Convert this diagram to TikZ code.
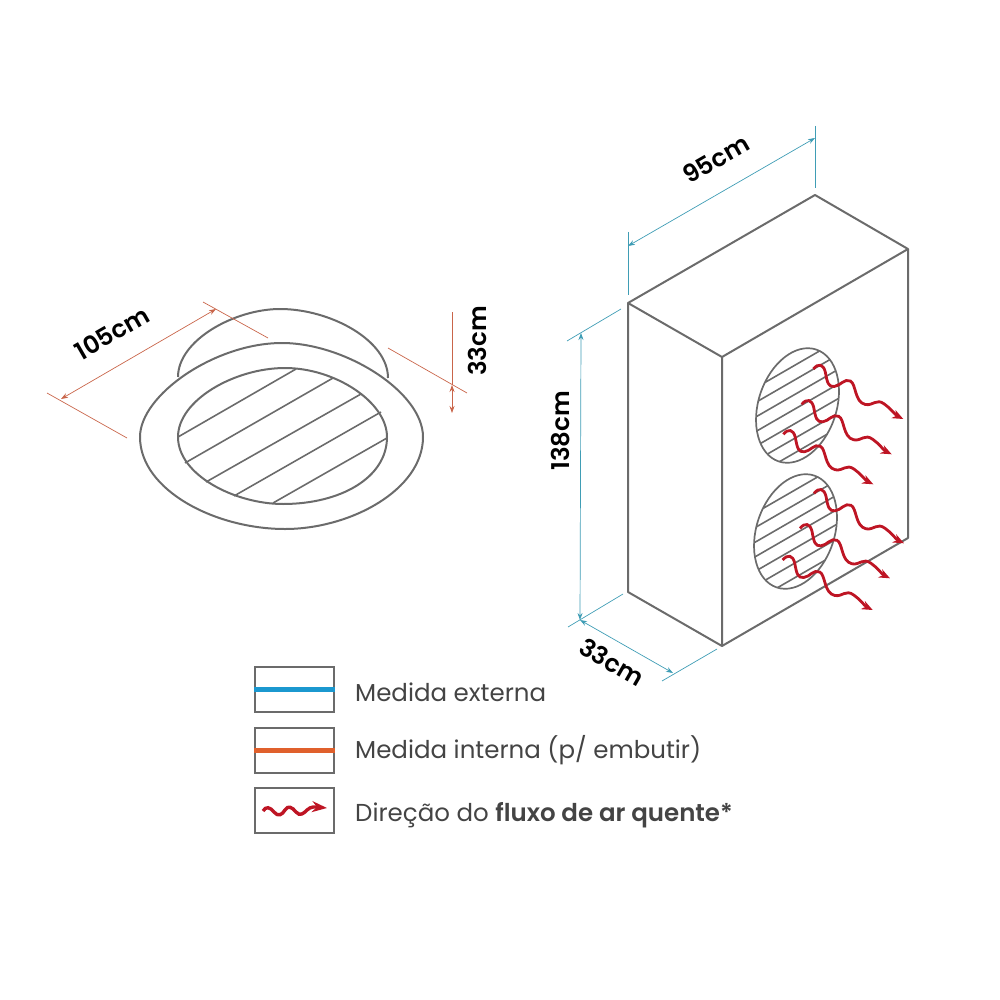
\documentclass[tikz,border=0pt]{standalone}
\usepackage{fontspec}
\usetikzlibrary{arrows.meta}
\setmainfont{Poppins}
\newfontfamily\strongfont{Poppins SemiBold}
\definecolor{linegray}{HTML}{6B6B6B}
\definecolor{textgray}{HTML}{444444}
\definecolor{extblue}{HTML}{3F9DB5}
\definecolor{intorange}{HTML}{C9654A}
\definecolor{barblue}{HTML}{1B98CF}
\definecolor{barorange}{HTML}{E0602C}
\definecolor{hotred}{HTML}{BE1524}
\tikzset{
  outline/.style={draw=linegray, line width=2pt, line join=round},
  slat/.style={draw=linegray, line width=1.6pt},
  dimext/.style={draw=extblue, line width=.7pt},
  dimint/.style={draw=intorange, line width=.7pt},
  dimboth/.style={{Stealth[length=7pt, width=5pt]}-{Stealth[length=7pt, width=5pt]}},
  flow/.style={-{Stealth[length=11pt, width=9pt]}, draw=hotred, line width=2.8pt},
  dimlabel/.style={font=\fontsize{24.5}{28}\strongfont, text=black, inner sep=0pt},
  legendbox/.style={draw=linegray, line width=1.8pt, minimum width=79pt, minimum height=45pt, inner sep=0pt},
  legendtext/.style={font=\fontsize{24.5}{28}\selectfont, text=textgray, anchor=base west, inner sep=0pt}
}
\newcommand{\fangrid}[2]{
\draw [outline, line width=1.7pt, rotate around={-18.6:(#1,#2)}] (#1,#2) ellipse [x radius=39, y radius=59];
\begin{scope}
\clip [rotate around={-18.6:(#1,#2)}] (#1,#2) ellipse [x radius=39, y radius=59];
\foreach \i in {-3,...,3}
  \draw [slat] ({#1-70},{#2+\i*14.6+2+40.4}) -- ({#1+70},{#2+\i*14.6+2-40.4});
\end{scope}
}
\newcommand{\hotflow}[2]{
\draw [flow, shift={(#1,#2)}] (0,0) .. controls (5,-6) and (10,-5) .. (12,3) .. controls (14,14) and (15,18) .. (21,17.5) .. controls (27,17) and (31,9) .. (37,12) .. controls (43,15) and (41,33) .. (52,35.5) .. controls (60,37) and (63,29) .. (71,35) .. controls (77,39) and (82,46) .. (90,50);
}

\begin{document}
\begin{tikzpicture}[x=1pt, y=-1pt]
\useasboundingbox (0,0) rectangle (1000,1000);

\draw [outline] (178,377) .. controls (178,340) and (235,309) .. (280,309) .. controls (330,309) and (388,340) .. (388,378);
\draw [outline] (140,437) .. controls (140,395) and (215,343) .. (282,343) .. controls (345,343) and (423,392) .. (423,437) .. controls (423,490) and (350,529) .. (285,529) .. controls (215,529) and (140,490) .. (140,437) -- cycle;
\draw [outline] (178,437) .. controls (178,400) and (235,368) .. (285,368) .. controls (335,368) and (387,402) .. (387,437) .. controls (387,478) and (340,504) .. (283,504) .. controls (235,504) and (178,475) .. (178,437) -- cycle;
\draw [slat] (178,437) -- (296,369);
\draw [slat] (185,463) -- (333,378);
\draw [slat] (206,482) -- (361,394);
\draw [slat] (234,496) -- (381,412);
\draw [slat] (273,503) -- (387,438);

\coordinate (wa) at (47,393);
\coordinate (wb) at (127,438);
\coordinate (wc) at (203,302);
\coordinate (wd) at (268,338);
\coordinate (we) at (61,399);
\coordinate (wf) at (216,309);
\draw [dimint] (wa) -- (wb);
\draw [dimint] (wc) -- (wd);
\draw [dimint, dimboth] (we) -- (wf);
\node (wlabel) [dimlabel, rotate=30] at (112,333) {105cm};

\coordinate (ha) at (388,348);
\coordinate (hb) at (467,393);
\coordinate (hc) at (452,312);
\coordinate (hd) at (452,385);
\coordinate (he) at (452,413);
\draw [dimint] (ha) -- (hb);
\draw [dimint] (hc) -- (hd);
\draw [dimint, dimboth] (hd) -- (he);
\node (hlabel) [dimlabel, rotate=90] at (477,341) {33cm};

\coordinate (A) at (628,303);
\coordinate (B) at (815,195);
\coordinate (C) at (908,249);
\coordinate (D) at (722,357);
\coordinate (E) at (628,592);
\coordinate (F) at (722,646);
\coordinate (G) at (908,538);
\draw [outline] (A) -- (B) -- (C) -- (D) -- cycle;
\draw [outline] (A) -- (E) -- (F) -- (D);
\draw [outline] (F) -- (G) -- (C);

\fangrid{797.5}{405.5}
\fangrid{795.5}{531.5}

\hotflow{813.3}{369}
\hotflow{801.7}{404.3}
\hotflow{783.3}{434.3}
\hotflow{814}{493.3}
\hotflow{800}{528.3}
\hotflow{782.7}{560}

\coordinate (ta) at (628,232);
\coordinate (tb) at (628,295);
\coordinate (tc) at (815,126);
\coordinate (td) at (815,188);
\coordinate (te) at (628,246);
\coordinate (tf) at (815,138);
\draw [dimext] (ta) -- (tb);
\draw [dimext] (tc) -- (td);
\draw [dimext, dimboth] (te) -- (tf);
\node (tlabel) [dimlabel, rotate=30] at (716,159) {95cm};

\coordinate (la) at (567,341);
\coordinate (lb) at (621,309);
\coordinate (lc) at (568,627);
\coordinate (ld) at (623,594);
\coordinate (le) at (581,333);
\coordinate (lf) at (580,620);
\draw [dimext] (la) -- (lb);
\draw [dimext] (lc) -- (ld);
\draw [dimext, dimboth] (le) -- (lf);
\node (llabel) [dimlabel, rotate=90] at (561,431) {138cm};

\coordinate (sa) at (662,681);
\coordinate (sb) at (717,649);
\coordinate (sc) at (673,673);
\draw [dimext] (sa) -- (sb);
\draw [dimext, dimboth] (lf) -- (sc);
\node (slabel) [dimlabel, rotate=-30] at (612,662) {33cm};

\node (boxext) [legendbox] at (294.5,689.5) {};
\draw [draw=barblue, line width=5pt] (boxext.west) -- (boxext.east);
\node (textext) [legendtext] at (355,701) {Medida externa};

\node (boxint) [legendbox] at (294.5,750.5) {};
\draw [draw=barorange, line width=5pt] (boxint.west) -- (boxint.east);
\node (textint) [legendtext] at (355,758) {Medida interna (p/ embutir)};

\node (boxflow) [legendbox] at (294.5,810.5) {};
\draw [flow, line width=3.4pt, -{Stealth[length=15pt, width=11pt]}] (263,811) .. controls (266,806) and (270,807) .. (274,812) .. controls (278,817) and (282,815) .. (285,810) .. controls (288,805) and (292,807) .. (296,812) .. controls (300,817) and (304,813) .. (307,810) .. controls (311,806) and (316,807) .. (327,808);
\node (textflow) [legendtext] at (355,821) {Direção do {\strongfont fluxo de ar quente*}};
\end{tikzpicture}
\end{document}
